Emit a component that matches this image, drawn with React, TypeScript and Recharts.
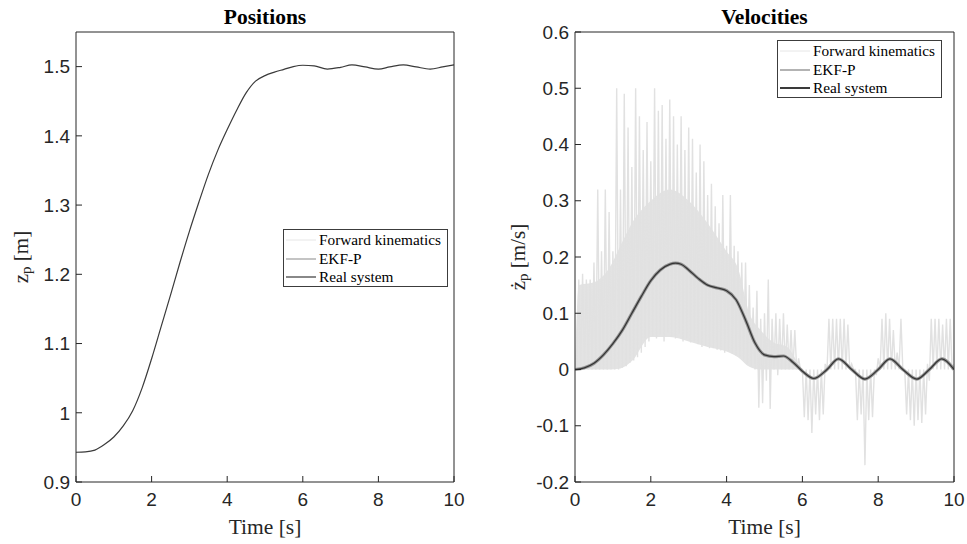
import React from 'react';
import { LineChart, ComposedChart, Line, Area, XAxis, YAxis, Legend } from 'recharts';

const SERIF = '"Times New Roman", "Liberation Serif", serif';
const SANS = 'Arial, "Liberation Sans", Helvetica, sans-serif';
const INK = '#262626';

// ---------- axis ticks ----------
const timeTicks = [0, 2, 4, 6, 8, 10];
const posTicks = [0.9, 1, 1.1, 1.2, 1.3, 1.4, 1.5];
const velTicks = [-0.2, -0.1, 0, 0.1, 0.2, 0.3, 0.4, 0.5, 0.6];
const seriesNames = ['Forward kinematics', 'EKF-P', 'Real system'];

// ---------- positions (z_p) ----------
const posTime = [0, 0.25, 0.5, 0.75, 1, 1.25, 1.5, 1.75, 2, 2.25, 2.5, 2.75, 3, 3.25, 3.5, 3.75, 4, 4.25, 4.5, 4.75, 5, 5.25, 5.5, 5.75, 6, 6.3, 6.65, 7, 7.3, 7.65, 8, 8.3, 8.66, 9, 9.37, 9.7, 10];
const posReal = [0.943, 0.9435, 0.946, 0.954, 0.965, 0.981, 1.003, 1.036, 1.078, 1.124, 1.17, 1.217, 1.262, 1.304, 1.344, 1.379, 1.409, 1.437, 1.462, 1.479, 1.487, 1.492, 1.496, 1.5, 1.502, 1.501, 1.4965, 1.499, 1.5025, 1.4995, 1.4965, 1.4995, 1.5025, 1.4995, 1.4965, 1.4995, 1.5025];

// ---------- velocities (dz_p/dt) ----------
const velTime = [0, 0.25, 0.5, 0.75, 1, 1.25, 1.5, 1.75, 2, 2.25, 2.5, 2.65, 2.8, 3, 3.25, 3.5, 3.75, 4, 4.25, 4.5, 4.75, 5, 5.25, 5.5, 5.75, 6, 6.3, 6.65, 6.95, 7.3, 7.65, 8, 8.31, 8.65, 9.02, 9.35, 9.68, 10];
const velReal = [0, 0.003, 0.011, 0.026, 0.046, 0.07, 0.1, 0.13, 0.158, 0.177, 0.187, 0.189, 0.187, 0.177, 0.162, 0.15, 0.145, 0.14, 0.124, 0.088, 0.047, 0.026, 0.023, 0.024, 0.013, -0.003, -0.016, 0, 0.019, 0, -0.017, 0, 0.019, 0, -0.017, 0, 0.019, 0];
const velEkf = [0, 0.003, 0.011, 0.026, 0.046, 0.07, 0.1, 0.13, 0.158, 0.177, 0.187, 0.189, 0.187, 0.177, 0.162, 0.15, 0.145, 0.14, 0.124, 0.088, 0.047, 0.026, 0.023, 0.024, 0.013, -0.003, -0.016, 0, 0.019, 0, -0.017, 0, 0.019, 0, -0.017, 0, 0.019, 0];

// forward-kinematics velocity: dense core of the noisy signal (min / max envelope)
const fkCoreTime = [0, 0.1, 0.5, 0.9, 1.2, 1.5, 2, 2.5, 3, 3.5, 4, 4.3, 4.6, 4.9, 5.2, 5.6, 5.9, 6];
const fkCoreLow = [0, 0, 0, 0, 0.002, 0.015, 0.058, 0.058, 0.05, 0.04, 0.032, 0.022, 0.005, 0, 0, 0, 0, 0];
const fkCoreHigh = [0, 0.15, 0.155, 0.18, 0.22, 0.26, 0.3, 0.32, 0.3, 0.26, 0.21, 0.18, 0.1, 0.07, 0.05, 0.04, 0.01, 0];

// forward-kinematics velocity: spike tips (at t = k*0.1) and troughs (at t = k*0.1 + 0.05)
const fkHigh = [
  0, 0.16, 0.17, 0.16, 0.16, 0.19, 0.32, 0.21, 0.32, 0.28,
  0.21, 0.5, 0.32, 0.49, 0.43, 0.36, 0.5, 0.45, 0.39, 0.44,
  0.37, 0.5, 0.46, 0.47, 0.41, 0.48, 0.45, 0.4, 0.45, 0.39,
  0.43, 0.41, 0.35, 0.4, 0.37, 0.31, 0.33, 0.29, 0.26, 0.31,
  0.22, 0.31, 0.22, 0.21, 0.19, 0.19, 0.15, 0.11, 0.14, 0.09,
  0.1, 0.16, 0.09, 0.1, 0.09, 0.1, 0.08, 0.07, 0.07, 0.02,
  0, 0, 0, 0, 0, 0, 0.01, 0.09, 0.09, 0.09,
  0.09, 0.09, 0.08, 0.01, 0, 0, 0, 0, 0, 0,
  0.02, 0.09, 0.1, 0.09, 0.07, 0.03, 0.09, 0, 0, 0,
  0, 0, 0, 0.01, 0.09, 0.09, 0.09, 0.08, 0.09, 0.09,
  0.01,
];
const fkLow = [
  0, 0, 0, 0, 0, 0, 0, 0, 0, 0,
  0, 0, 0.003, 0.006, 0.012, 0.016, 0.022, 0.03, 0.04, 0.05,
  0.06, 0.055, 0.062, 0.05, 0.066, 0.058, 0.055, 0.064, 0.05, 0.055,
  0.048, 0.05, 0.045, 0.04, 0.042, 0.038, 0.038, 0.035, 0.034, 0.03,
  0.032, 0.028, 0.025, 0.022, 0.018, 0.01, 0.005, 0, -0.068, -0.06,
  -0.02, -0.07, 0, -0.01, 0, 0, 0, 0, 0, 0,
  -0.085, -0.09, -0.113, -0.08, -0.09, -0.08, 0, 0, 0, 0,
  0, 0, 0, 0, -0.09, -0.08, -0.17, -0.09, -0.085, -0.01,
  0, 0, 0, 0, 0, 0, 0, -0.08, -0.09, -0.1,
  -0.09, -0.095, -0.08, -0.02, 0, 0, 0, 0, 0, 0,
];

// ---------- tables built from the arrays ----------
const posData = posTime.map((t, i) => ({ t, v: posReal[i] }));
const velRealData = velTime.map((t, i) => ({ t, v: velReal[i] }));
const velEkfData = velTime.map((t, i) => ({ t, v: velEkf[i] }));
const fkCoreData = fkCoreTime.map((t, i) => ({ t, r: [fkCoreLow[i], fkCoreHigh[i]] }));
const fkData: { t: number; v: number }[] = [];
fkHigh.forEach((h, i) => {
  fkData.push({ t: +(i / 10).toFixed(2), v: h });
  if (i < fkLow.length) fkData.push({ t: +(i / 10 + 0.05).toFixed(2), v: fkLow[i] });
});

const fmt = (v: number) => String(Math.round(v * 10) / 10);
const tickFont = { fontFamily: SANS, fontSize: 19, fill: INK };

type LegendStyle = { color: string; width: number };

const makeLegend = (styles: LegendStyle[]) => () => (
  <div
    style={{
      border: '1px solid #3c3c3c',
      background: '#fff',
      boxSizing: 'border-box',
      width: '100%',
      height: '100%',
      padding: '1px 0 0 2px',
    }}
  >
    {seriesNames.map((name, i) => (
      <div key={name} style={{ display: 'flex', alignItems: 'center', height: 18.5 }}>
        <svg width={30} height={4} style={{ marginRight: 3, flex: 'none' }}>
          <line x1={0} x2={30} y1={2} y2={2} stroke={styles[i].color} strokeWidth={styles[i].width} />
        </svg>
        <span style={{ fontFamily: SERIF, fontSize: 15.3, color: '#000', lineHeight: '18px', whiteSpace: 'nowrap' }}>
          {name}
        </span>
      </div>
    ))}
  </div>
);

const titleContent = (text: string) => (props: any) => {
  const vb = props.viewBox || {};
  return (
    <text
      x={vb.x + vb.width / 2}
      y={vb.y - 14}
      textAnchor="middle"
      dominantBaseline="central"
      fontFamily={SERIF}
      fontWeight="bold"
      fontSize={21.5}
      fill="#000"
    >
      {text}
    </text>
  );
};

const xLabelContent = (props: any) => {
  const vb = props.viewBox || {};
  return (
    <text
      x={vb.x + vb.width / 2}
      y={vb.y + 45}
      textAnchor="middle"
      dominantBaseline="central"
      fontFamily={SERIF}
      fontSize={21.5}
      fill={INK}
    >
      Time [s]
    </text>
  );
};

const yLabelContent = (main: string, unit: string, dx: number) => (props: any) => {
  const vb = props.viewBox || {};
  const cx = vb.x + dx;
  const cy = vb.y + vb.height / 2;
  return (
    <text
      x={cx}
      y={cy}
      transform={`rotate(-90, ${cx}, ${cy})`}
      textAnchor="middle"
      dominantBaseline="central"
      fontFamily={SERIF}
      fontSize={21}
      fill={INK}
    >
      <tspan>{main}</tspan>
      <tspan dy={5} fontSize={15}>p</tspan>
      <tspan dy={-5}>{` ${unit}`}</tspan>
    </text>
  );
};

export default function App() {
  const axisLine = { stroke: INK, strokeWidth: 1 };
  const tickLine = { stroke: INK, strokeWidth: 1 };
  const leftLegend = [
    { color: '#e6e6e6', width: 1 },
    { color: '#b0b0b0', width: 1.5 },
    { color: '#3a3a3a', width: 1.2 },
  ];
  const rightLegend = [
    { color: '#e6e6e6', width: 1 },
    { color: '#9a9a9a', width: 1.5 },
    { color: '#3a3a3a', width: 2 },
  ];

  return (
    <div style={{ position: 'absolute', left: 0, top: 0, width: 967, height: 544, background: '#fff' }}>
      {/* ---------- Positions ---------- */}
      <div style={{ position: 'absolute', left: 0, top: 0 }}>
        <LineChart width={480} height={544} margin={{ top: 31, right: 25, bottom: 61, left: 75 }}>
          <XAxis
            type="number"
            dataKey="t"
            domain={[0, 10]}
            ticks={timeTicks}
            interval={0}
            height={1}
            tickSize={-6}
            tickMargin={17}
            axisLine={axisLine}
            tickLine={tickLine}
            tick={tickFont}
            allowDataOverflow
            label={{ content: xLabelContent }}
          />
          <XAxis
            xAxisId="top"
            orientation="top"
            type="number"
            domain={[0, 10]}
            ticks={timeTicks}
            interval={0}
            height={1}
            tickSize={-6}
            axisLine={axisLine}
            tickLine={tickLine}
            tick={false}
            allowDataOverflow
            label={{ content: titleContent('Positions') }}
          />
          <YAxis
            type="number"
            domain={[0.9, 1.55]}
            ticks={posTicks}
            interval={0}
            width={1}
            tickSize={-6}
            tickMargin={12}
            tickFormatter={fmt}
            axisLine={axisLine}
            tickLine={tickLine}
            tick={tickFont}
            allowDataOverflow
            label={{ content: yLabelContent('z', '[m]', -54) }}
          />
          <YAxis
            yAxisId="right"
            orientation="right"
            type="number"
            domain={[0.9, 1.55]}
            ticks={posTicks}
            interval={0}
            width={1}
            tickSize={-6}
            axisLine={axisLine}
            tickLine={tickLine}
            tick={false}
            allowDataOverflow
          />
          <Legend
            layout="horizontal"
            verticalAlign="middle"
            align="center"
            content={makeLegend(leftLegend)}
            wrapperStyle={{ position: 'absolute', left: 283, top: 229, width: 165, height: 58 }}
          />
          <Line
            data={posData}
            dataKey="v"
            name="Real system"
            type="monotone"
            stroke="#3a3a3a"
            strokeWidth={1.2}
            dot={false}
            activeDot={false}
            isAnimationActive={false}
          />
        </LineChart>
      </div>

      {/* ---------- Velocities ---------- */}
      <div style={{ position: 'absolute', left: 490, top: 0 }}>
        <ComposedChart width={477} height={544} margin={{ top: 31, right: 12, bottom: 61, left: 84 }}>
          <XAxis
            type="number"
            dataKey="t"
            domain={[0, 10]}
            ticks={timeTicks}
            interval={0}
            height={1}
            tickSize={-6}
            tickMargin={17}
            axisLine={axisLine}
            tickLine={tickLine}
            tick={tickFont}
            allowDataOverflow
            label={{ content: xLabelContent }}
          />
          <XAxis
            xAxisId="top"
            orientation="top"
            type="number"
            domain={[0, 10]}
            ticks={timeTicks}
            interval={0}
            height={1}
            tickSize={-6}
            axisLine={axisLine}
            tickLine={tickLine}
            tick={false}
            allowDataOverflow
            label={{ content: titleContent('Velocities') }}
          />
          <YAxis
            type="number"
            domain={[-0.2, 0.6]}
            ticks={velTicks}
            interval={0}
            width={1}
            tickSize={-6}
            tickMargin={12}
            tickFormatter={fmt}
            axisLine={axisLine}
            tickLine={tickLine}
            tick={tickFont}
            allowDataOverflow
            label={{ content: yLabelContent('\u017C', '[m/s]', -56) }}
          />
          <YAxis
            yAxisId="right"
            orientation="right"
            type="number"
            domain={[-0.2, 0.6]}
            ticks={velTicks}
            interval={0}
            width={1}
            tickSize={-6}
            axisLine={axisLine}
            tickLine={tickLine}
            tick={false}
            allowDataOverflow
          />
          <Legend
            layout="horizontal"
            verticalAlign="middle"
            align="center"
            content={makeLegend(rightLegend)}
            wrapperStyle={{ position: 'absolute', left: 287, top: 40, width: 165, height: 58 }}
          />
          <Area
            data={fkCoreData}
            dataKey="r"
            name="Forward kinematics core"
            type="monotone"
            stroke="none"
            fill="#e3e3e3"
            fillOpacity={1}
            legendType="none"
            dot={false}
            activeDot={false}
            isAnimationActive={false}
          />
          <Line
            data={fkData}
            dataKey="v"
            name="Forward kinematics"
            type="linear"
            stroke="#e1e1e1"
            strokeWidth={1.4}
            dot={false}
            activeDot={false}
            isAnimationActive={false}
          />
          <Line
            data={velEkfData}
            dataKey="v"
            name="EKF-P"
            type="monotone"
            stroke="#939393"
            strokeWidth={3.2}
            dot={false}
            activeDot={false}
            isAnimationActive={false}
          />
          <Line
            data={velRealData}
            dataKey="v"
            name="Real system"
            type="monotone"
            stroke="#333333"
            strokeWidth={1.2}
            dot={false}
            activeDot={false}
            isAnimationActive={false}
          />
        </ComposedChart>
      </div>
    </div>
  );
}
